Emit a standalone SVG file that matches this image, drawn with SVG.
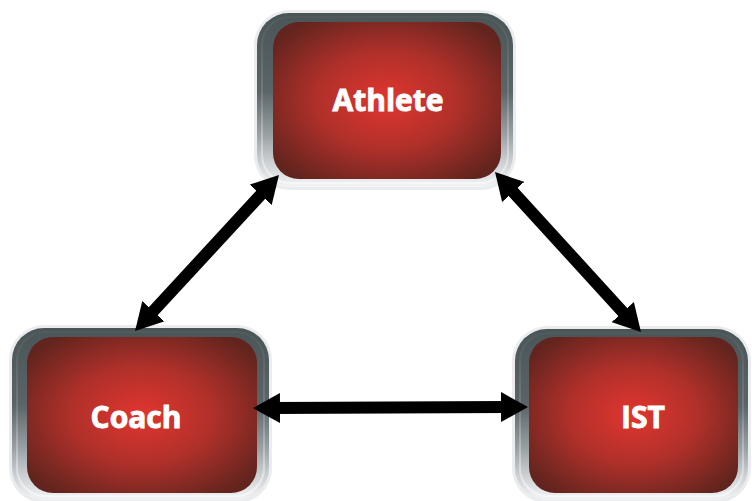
<svg xmlns="http://www.w3.org/2000/svg" width="752" height="501" viewBox="0 0 752 501">
  <defs>
    <!-- metallic bezel: dark steel at the top fading to bright silver at the bottom -->
    <linearGradient id="bezel" x1="0" y1="0" x2="0" y2="1">
      <stop offset="0" stop-color="#4a5558"/>
      <stop offset="0.45" stop-color="#5b6568"/>
      <stop offset="0.7" stop-color="#9aa1a5"/>
      <stop offset="0.86" stop-color="#cdd1d4"/>
      <stop offset="1" stop-color="#f3f4f5"/>
    </linearGradient>
    <linearGradient id="sheen" x1="0" y1="0" x2="0" y2="1">
      <stop offset="0" stop-color="#ffffff" stop-opacity="0.03"/>
      <stop offset="0.5" stop-color="#ffffff" stop-opacity="0.15"/>
      <stop offset="1" stop-color="#ffffff" stop-opacity="0.5"/>
    </linearGradient>
    <!-- glowing red face -->
    <radialGradient id="face" cx="0.5" cy="0.5" r="0.62">
      <stop offset="0" stop-color="#e2352f"/>
      <stop offset="0.5" stop-color="#b0302a"/>
      <stop offset="1" stop-color="#62241e"/>
    </radialGradient>
    <marker id="head" viewBox="0 0 27 30" markerWidth="27" markerHeight="30" refX="7" refY="15" markerUnits="userSpaceOnUse" orient="auto-start-reverse">
      <path d="M0,0 L27,15 L0,30 Z" fill="#000"/>
    </marker>
  </defs>
  <style>
    .halo { fill: #eaecee; }
    .bezel { fill: url(#bezel); }
    .sheen { fill: none; stroke: url(#sheen); stroke-width: 2; }
    .face { fill: url(#face); }
    .label { font-family: "Open Sans", "Liberation Sans", sans-serif; font-weight: 700; font-size: 30px; fill: #ffffff; stroke: #ffffff; stroke-width: 0.9; text-anchor: middle; }
    .link { fill: none; stroke: #000; stroke-width: 12; marker-start: url(#head); marker-end: url(#head); }
  </style>

  <rect width="752" height="501" fill="#ffffff"/>

  <g id="athlete">
    <rect class="halo" x="254" y="10" width="262" height="180" rx="35"/>
    <rect class="bezel" x="257" y="13" width="256" height="174" rx="32"/>
    <rect class="sheen" x="262" y="17" width="246" height="166" rx="28"/>
    <rect class="face" x="273" y="22" width="228" height="157" rx="26"/>
    <text class="label" x="388" y="111">Athlete</text>
  </g>

  <g id="coach">
    <rect class="halo" x="9" y="325" width="263" height="178" rx="35"/>
    <rect class="bezel" x="12" y="328" width="257" height="172" rx="32"/>
    <rect class="sheen" x="17" y="332" width="247" height="164" rx="28"/>
    <rect class="face" x="27" y="337" width="230" height="156" rx="26"/>
    <text class="label" x="136" y="428">Coach</text>
  </g>

  <g id="ist">
    <rect class="halo" x="512" y="326" width="239" height="177" rx="35"/>
    <rect class="bezel" x="515" y="329" width="233" height="171" rx="32"/>
    <rect class="sheen" x="520" y="333" width="223" height="163" rx="28"/>
    <rect class="face" x="529" y="337" width="209" height="156" rx="26"/>
    <text class="label" x="643" y="428">IST</text>
  </g>

  <g id="connectors">
    <path class="link" d="M148.6,316.3 L265.4,189.7"/>
    <path class="link" d="M508.5,186.8 L627.5,317.2"/>
    <path class="link" d="M273,408 L508,407"/>
  </g>
</svg>
